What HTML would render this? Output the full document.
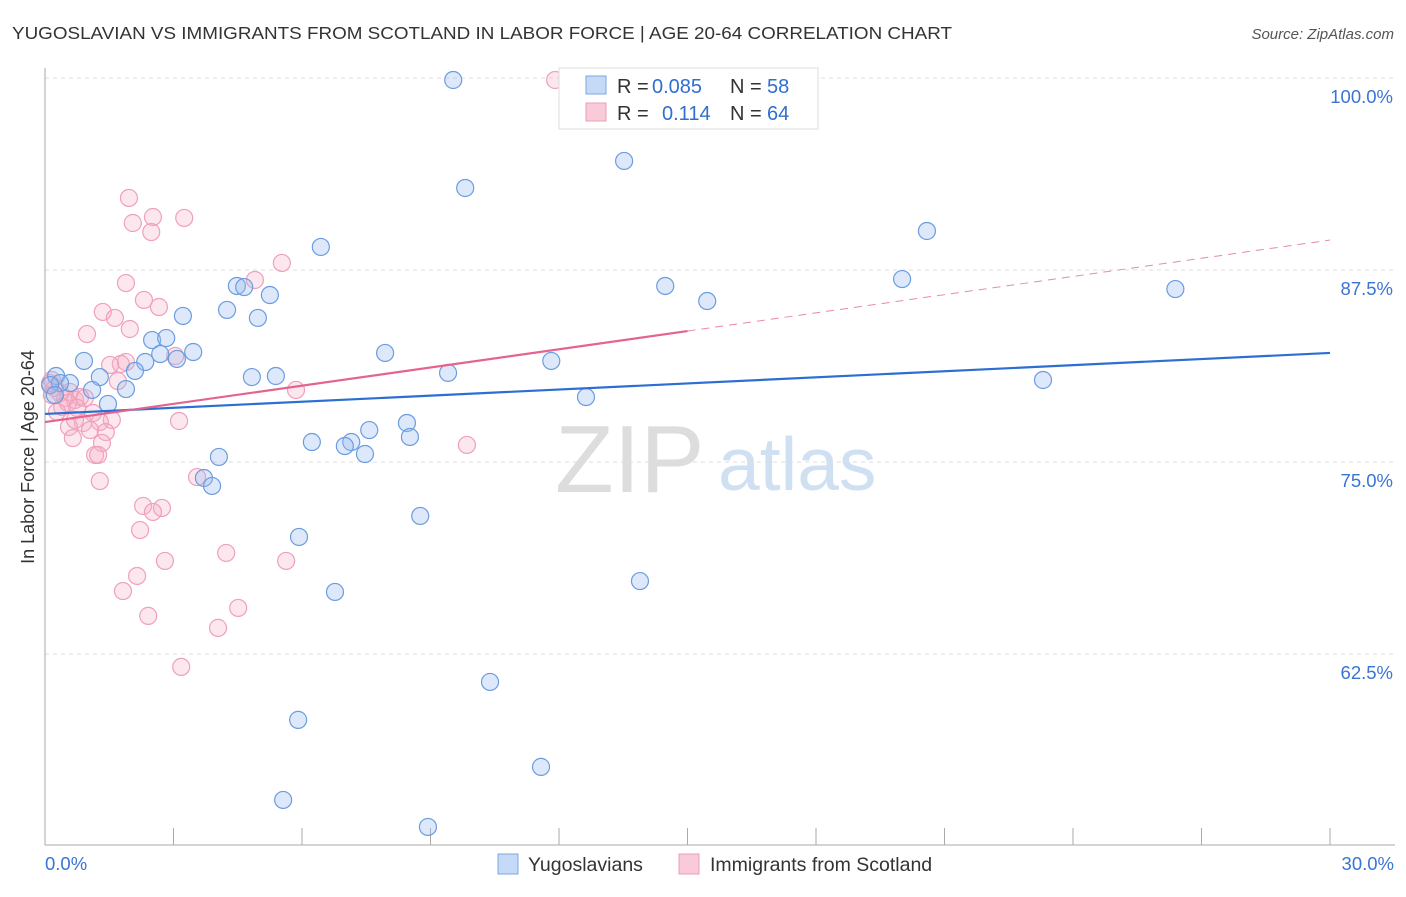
<!DOCTYPE html>
<html><head><meta charset="utf-8"><style>
body{margin:0;background:#fff;font-family:"Liberation Sans",sans-serif;}
svg text{font-family:"Liberation Sans",sans-serif;}
</style></head><body>
<svg id="c" width="1406" height="892">
<text x="12" y="39" font-size="17.5" fill="#333" textLength="940" lengthAdjust="spacingAndGlyphs">YUGOSLAVIAN VS IMMIGRANTS FROM SCOTLAND IN LABOR FORCE | AGE 20-64 CORRELATION CHART</text>
<text x="1394" y="39" font-size="15" fill="#555" font-style="italic" text-anchor="end">Source: ZipAtlas.com</text>
<text x="555" y="492" font-size="96" fill="#ddd" font-family="Liberation Serif">ZIP</text>
<text x="718" y="490" font-size="75" fill="#cfe0f3">atlas</text>
<text transform="translate(34,457) rotate(-90)" font-size="18" fill="#333" text-anchor="middle">In Labor Force | Age 20-64</text>
<g id="grid"></g><g id="marks"></g><g id="lines"></g>
<g>
<rect x="559" y="68" width="259" height="61" fill="#fff" stroke="#ddd"/>
<rect x="586" y="76" width="20" height="18" fill="#c5daf6" stroke="#7ea6e0"/>
<rect x="586" y="103" width="20" height="18" fill="#f9cad8" stroke="#eba0b8"/>
<text x="617" y="93" font-size="20" fill="#333">R =</text>
<text x="652" y="93" font-size="20" fill="#2f6fd0">0.085</text>
<text x="730" y="93" font-size="20" fill="#333">N =</text>
<text x="767" y="93" font-size="20" fill="#2f6fd0">58</text>
<text x="617" y="120" font-size="20" fill="#333">R =</text>
<text x="662" y="120" font-size="20" fill="#2f6fd0">0.114</text>
<text x="730" y="120" font-size="20" fill="#333">N =</text>
<text x="767" y="120" font-size="20" fill="#2f6fd0">64</text>
</g>
<g>
<rect x="498" y="854" width="20" height="20" fill="#c5daf6" stroke="#7ea6e0"/>
<text x="528" y="871" font-size="19.5" fill="#333">Yugoslavians</text>
<rect x="679" y="854" width="20" height="20" fill="#f9cad8" stroke="#eba0b8"/>
<text x="710" y="871" font-size="19.5" fill="#333">Immigrants from Scotland</text>
</g>
</svg>
<script>
const yTicks=[100,87.5,75,62.5];
const yTickLabels=["100.0%","87.5%","75.0%","62.5%"];
const xLabels=["0.0%","30.0%"];
const blueX=[9.53,13.52,9.81,20.59,6.44,14.48,15.46,20.01,26.39,4.48,4.65,5.25,4.25,4.97,3.22,2.5,2.83,2.69,3.46,3.08,2.34,2.1,0.91,0.26,0.58,1.28,1.89,1.1,1.47,0.35,7.94,11.82,9.41,4.83,5.39,23.3,12.63,8.45,7.57,8.52,6.23,7.15,7.0,7.47,4.06,3.71,3.9,8.76,5.93,13.89,6.77,10.39,5.91,11.58,5.56,8.94,0.12,0.23];
const blueY=[99.87,94.6,92.84,90.04,89.0,86.46,85.48,86.91,86.26,86.46,86.39,85.87,84.9,84.38,84.51,82.94,83.07,82.03,82.16,81.71,81.51,80.93,81.58,80.6,80.14,80.53,79.75,79.69,78.78,80.14,82.1,81.58,80.8,80.53,80.6,80.34,79.23,77.54,77.08,76.63,76.3,76.3,76.04,75.52,75.33,73.96,73.44,71.49,70.12,67.25,66.54,60.68,58.21,55.15,53.0,51.24,80.01,79.36];
const pinkX=[11.91,1.96,2.52,3.25,2.05,2.48,5.53,4.9,1.89,2.31,2.66,1.35,1.63,1.98,0.98,3.04,1.89,1.77,1.7,5.86,0.12,0.23,0.35,0.47,0.58,0.7,0.82,0.4,0.54,0.16,1.56,1.28,0.89,0.56,1.05,1.42,3.13,0.65,1.33,1.17,1.24,9.85,1.28,3.55,2.29,2.73,2.52,2.22,4.23,5.63,2.8,2.15,1.82,4.51,2.41,4.04,3.18,1.12,0.93,0.75,0.28,1.52,0.16,0.7];
const pinkY=[99.87,92.19,90.95,90.89,90.56,89.97,87.96,86.85,86.65,85.55,85.09,84.77,84.38,83.66,83.33,81.9,81.51,81.38,80.27,79.69,80.14,79.82,79.49,79.17,79.56,79.04,79.23,78.58,78.84,79.36,77.74,77.61,77.54,77.28,77.08,76.95,77.67,76.56,76.24,75.46,75.46,76.11,73.76,74.02,72.14,72.01,71.75,70.57,69.08,68.56,68.56,67.58,66.6,65.5,64.98,64.2,61.66,78.19,79.17,78.52,78.26,81.32,80.34,77.74];
const blueTrend=[78.13,82.1];
const pinkTrend=[77.6,89.45];
const pinkSolidEnd=15.0;
const X0=45,X1=1330,Y100=78,PX=192/12.5;
const sx=v=>X0+(X1-X0)*v/30, sy=v=>Y100+(100-v)*PX;
const NS="http://www.w3.org/2000/svg";
function mk(t,a,p){const e=document.createElementNS(NS,t);for(const k in a)e.setAttribute(k,a[k]);p.appendChild(e);return e;}
const grid=document.getElementById('grid');
yTicks.forEach((t,i)=>{
 const l=mk('line',{x1:X0,x2:1395,y1:sy(t),y2:sy(t),stroke:'#ddd','stroke-dasharray':'4,4'},grid);
 
 
 const tx=mk('text',{x:1393,y:sy(t)+25,'font-size':18.5,fill:'#3a74d4','text-anchor':'end'},grid);
 tx.textContent=yTickLabels[i];
 
 
});
mk('line',{x1:X0,x2:X0,y1:68,y2:845,stroke:'#aaa'},grid);
mk('line',{x1:X0,x2:1395,y1:845,y2:845,stroke:'#aaa'},grid);
for(let i=0;i<=10;i++){const x=sx(i*3);const t=mk('line',{x1:x,x2:x,y1:828,y2:845,stroke:'#aaa'},grid);
 
 }
const xl0=mk('text',{x:45,y:870,'font-size':18.5,fill:'#3a74d4'},grid);xl0.textContent=xLabels[0];


const xl1=mk('text',{x:1394,y:870,'font-size':18.5,fill:'#3a74d4','text-anchor':'end'},grid);xl1.textContent=xLabels[1];


const marks=document.getElementById('marks');
pinkX.forEach((x,i)=>{const c=mk('circle',{cx:sx(x),cy:sy(pinkY[i]),r:8.5,fill:'rgba(245,175,200,0.3)',stroke:'#efa0ba','stroke-width':1.2},marks);
 
 });
blueX.forEach((x,i)=>{const c=mk('circle',{cx:sx(x),cy:sy(blueY[i]),r:8.5,fill:'rgba(150,188,238,0.32)',stroke:'#6c9ce0','stroke-width':1.2},marks);
 
 });
const lines=document.getElementById('lines');
const bl=mk('line',{x1:sx(0),y1:sy(blueTrend[0]),x2:sx(30),y2:sy(blueTrend[1]),stroke:'#2c6fd1','stroke-width':2.2},lines);


const pm=pinkTrend[0]+(pinkTrend[1]-pinkTrend[0])*pinkSolidEnd/30;
const pl=mk('line',{x1:sx(0),y1:sy(pinkTrend[0]),x2:sx(pinkSolidEnd),y2:sy(pm),stroke:'#e5638f','stroke-width':2.2},lines);


const pd=mk('line',{x1:sx(pinkSolidEnd),y1:sy(pm),x2:sx(30),y2:sy(pinkTrend[1]),stroke:'#e88aa8','stroke-width':1,'stroke-dasharray':'8,6'},lines);


</script>
</body></html>
